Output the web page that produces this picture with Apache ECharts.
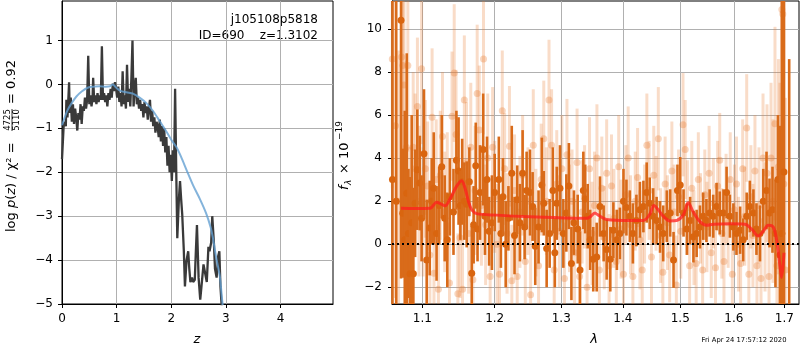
<!DOCTYPE html>
<html>
<head>
<meta charset="utf-8">
<script src="https://cdn.jsdelivr.net/npm/echarts@6/dist/echarts.min.js"></script>
<style>html,body{margin:0;padding:0;background:#fff;}#c{width:800px;height:350px;}</style>
</head>
<body>
<div id="c"></div>
<script>
// ---------- Left panel: log p(z) ----------
const zTicks = [0, 1, 2, 3, 4];
const pTicks = [-5, -4, -3, -2, -1, 0, 1];
const zBlack = [0.00,0.02,0.03,0.05,0.07,0.08,0.10,0.11,0.13,0.14,0.16,0.18,0.20,0.22,0.24,0.26,0.28,0.30,0.32,0.34,0.36,0.38,0.40,0.42,0.44,0.46,0.48,0.50,0.52,0.54,0.56,0.57,0.59,0.61,0.63,0.65,0.67,0.69,0.71,0.73,0.75,0.77,0.79,0.81,0.83,0.85,0.87,0.89,0.91,0.93,0.95,0.97,0.99,1.01,1.03,1.05,1.07,1.09,1.11,1.13,1.15,1.17,1.19,1.21,1.23,1.25,1.27,1.29,1.31,1.33,1.35,1.37,1.39,1.41,1.43,1.45,1.47,1.49,1.51,1.53,1.55,1.57,1.59,1.61,1.63,1.65,1.67,1.69,1.71,1.73,1.75,1.77,1.79,1.81,1.83,1.85,1.87,1.89,1.91,1.93,1.95,1.97,1.99,2.01,2.03,2.05,2.07,2.09,2.11,2.14,2.16,2.18,2.20,2.23,2.25,2.28,2.31,2.33,2.35,2.38,2.40,2.43,2.45,2.47,2.50,2.53,2.56,2.59,2.62,2.65,2.68,2.70,2.73,2.75,2.78,2.80,2.83,2.86,2.88,2.90,2.92,2.94];
const pBlack = [-1.7,-1.2,-0.95,-0.85,-0.95,-0.35,-0.75,-0.5,0.05,-0.65,-0.3,-0.85,-0.45,-0.9,-0.55,-0.75,-1.05,-0.65,-0.8,-0.45,-0.9,-0.5,-0.6,-0.3,-0.55,-0.35,0.65,-0.45,-0.25,-0.5,-0.3,0.15,-0.4,-0.25,-0.45,-0.2,-0.4,-0.25,-0.35,0.87,-0.35,-0.2,-0.4,-0.25,-0.5,-0.2,-0.35,-0.1,-0.3,0.02,-0.15,0.05,-0.1,-0.3,-0.05,-0.4,-0.2,-0.5,0.3,-0.45,-0.25,-0.55,0.45,-0.4,-0.1,-0.5,0.15,1.0,-0.5,-0.1,0.15,-0.45,-0.3,-0.55,-0.35,-0.6,-0.45,-0.75,-0.4,-0.65,-0.5,-0.8,-0.55,-0.35,-0.85,-0.6,-0.95,-0.75,-1.1,-0.85,-0.95,-1.2,-0.8,-1.3,-0.95,-1.4,-1.0,-1.55,-1.2,-1.85,-1.4,-2.0,-1.6,-2.2,-1.5,-2.0,-0.1,-1.9,-3.5,-2.6,-2.2,-2.6,-2.95,-3.8,-4.6,-4.0,-3.8,-4.2,-4.5,-4.4,-4.5,-4.45,-3.8,-3.2,-4.4,-4.9,-4.5,-4.1,-4.3,-4.5,-3.7,-3.8,-3.6,-3.0,-3.6,-4.2,-4.4,-3.9,-3.8,-4.6,-5.0,-5.5];
const zBlue = [0,0.05,0.1,0.18,0.26,0.36,0.48,0.6,0.69,0.8,0.88,0.93,0.98,1.06,1.18,1.3,1.42,1.54,1.67,1.79,1.91,2.0,2.09,2.18,2.28,2.4,2.52,2.64,2.72,2.76,2.82,2.89,2.93,2.96];
const pBlue = [-0.93,-0.75,-0.59,-0.42,-0.28,-0.16,-0.07,-0.05,-0.04,-0.05,-0.04,0.0,-0.06,-0.14,-0.18,-0.21,-0.3,-0.42,-0.61,-0.84,-1.07,-1.26,-1.42,-1.65,-1.95,-2.3,-2.6,-2.94,-3.25,-3.48,-3.93,-4.38,-4.9,-5.2];

// ---------- Right panel: spectrum ----------
const lamTicks = [1.1, 1.2, 1.3, 1.4, 1.5, 1.6, 1.7];
const fTicks = [-2, 0, 2, 4, 6, 8, 10];
const lamDark = [
 1.0612,1.0660,1.0722,1.0744,1.0770,1.0796,1.0818,1.0839,1.0860,1.0882,
 1.0905,1.0934,1.0967,1.0990,1.1022,1.1058,1.1098,1.1125,1.1152,1.1190,
 1.1225,1.1260,1.1300,1.1335,1.1370,1.1420,1.1460,1.1490,1.1515,1.1540,
 1.1570,1.1603,1.1640,1.1673,1.1700,1.1730,1.1755,1.1790,1.1835,1.1860,
 1.1890,1.1920,1.1960,1.2000,1.2060,1.2090,1.2120,1.2160,1.2200,1.2249,
 1.2290,1.2330,1.2370,1.2410,1.2440,1.2470,1.2521,1.2560,1.2600,1.2650,
 1.2700,1.2730,1.2774,1.2820,1.2870,1.2900,1.2930,1.2980,1.3033,1.3080,
 1.3120,1.3160,1.3200,1.3260,1.3297,1.3350,1.3380,1.3420,1.3460,1.3510,
 1.3566,1.3620,1.3680,1.3730,1.3790,1.3841,1.3900,1.3950,1.4010,1.4060,
 1.4118,1.4170,1.4230,1.4290,1.4350,1.4407,1.4460,1.4520,1.4580,1.4640,
 1.4696,1.4760,1.4820,1.4880,1.4950,1.5000,1.5060,1.5120,1.5180,1.5240,
 1.5299,1.5360,1.5420,1.5480,1.5540,1.5607,1.5670,1.5730,1.5800,1.5860,
 1.5923,1.5990,1.6050,1.6120,1.6180,1.6248,1.6310,1.6380,1.6440,1.6510,
 1.6575,1.6640,1.6700,1.6760,1.6820,1.6870,1.6911,1.6950,1.6993,1.7100];
const fDark = [
 3.0,2.0,10.4,1.44,0.2,2.37,0.5,-1.38,1.0,-1.38,
 1.9,3.46,2.84,1.2,4.2,-0.73,0.75,2.0,2.6,0.5,
 1.8,3.6,1.2,0.2,2.2,1.5,3.9,3.4,1.8,2.9,
 2.0,1.85,2.9,-1.35,0.9,3.65,0.7,2.4,4.4,1.3,
 3.0,0.6,1.0,2.4,3.0,0.5,2.2,0.0,1.2,3.3,
 0.4,2.06,1.0,3.3,0.8,2.5,2.4,1.75,-0.1,0.8,
 2.75,1.9,-0.2,0.5,2.5,-0.4,1.9,2.6,0.5,1.45,
 2.7,-0.9,1.0,0.7,-1.2,2.5,2.1,1.3,0.2,-0.7,
 -0.6,1.75,0.5,-0.25,-0.7,0.65,0.2,0.5,2.0,1.7,
 1.3,0.5,1.1,1.6,1.75,2.4,1.9,1.3,1.1,0.8,
 0.5,1.3,1.45,-0.73,2.5,2.75,1.45,0.7,1.1,0.35,
 0.5,0.8,1.3,1.1,1.45,1.3,1.75,1.45,1.45,2.4,
 1.3,0.8,0.5,0.65,0.2,1.3,1.75,1.45,0.7,0.5,
 2.0,2.5,1.45,1.6,0.5,3.0,-0.5,0.5,3.35,-3.0];
const eDark = [
 15,15,12,3.0,6.0,6.5,3.0,4.5,5.0,4.0,
 2.5,2.8,2.2,2.0,3.0,2.8,2.2,2.0,2.6,2.2,
 1.8,2.4,2.0,2.2,1.8,2.0,2.3,2.5,1.6,2.0,
 1.8,2.0,1.6,2.2,1.8,2.0,1.5,2.2,2.6,1.8,
 2.0,1.6,2.2,1.8,2.0,1.6,1.8,2.0,1.5,2.2,
 1.8,1.6,1.8,2.0,1.5,1.8,2.0,1.6,1.8,1.7,
 2.2,1.5,1.8,1.6,2.0,1.6,1.7,2.0,1.6,1.8,
 2.0,1.7,1.5,1.6,1.8,1.8,1.6,1.5,1.4,1.5,
 1.6,1.4,1.3,1.4,1.5,1.3,1.4,1.2,1.5,1.3,
 1.2,1.4,1.2,1.3,1.2,1.4,1.2,1.3,1.1,1.2,
 1.3,1.2,1.1,1.3,1.2,1.3,1.1,1.2,1.1,1.2,
 1.1,1.0,1.1,1.0,1.1,1.0,1.1,1.0,1.1,1.2,
 1.0,1.1,1.0,1.1,1.0,1.1,1.2,1.1,1.2,1.3,
 1.5,1.8,1.6,2.0,2.5,3.0,6.0,14,14,11.6];
const lamLight = [
 1.0610,1.0650,1.0690,1.0730,1.0745,1.0760,1.0790,1.0810,1.0830,1.0850,
 1.0880,1.0905,1.0935,1.0955,1.0990,1.1010,1.1040,1.1070,1.1100,1.1130,
 1.1155,1.1185,1.1215,1.1240,1.1270,1.1300,1.1335,1.1365,1.1400,1.1430,
 1.1455,1.1480,1.1510,1.1545,1.1570,1.1600,1.1630,1.1660,1.1690,1.1720,
 1.1750,1.1780,1.1810,1.1840,1.1870,1.1900,1.1935,1.1970,1.2000,1.2035,
 1.2070,1.2110,1.2145,1.2180,1.2215,1.2250,1.2290,1.2330,1.2370,1.2410,
 1.2450,1.2490,1.2530,1.2570,1.2610,1.2650,1.2690,1.2730,1.2770,1.2810,
 1.2850,1.2890,1.2930,1.2970,1.3010,1.3050,1.3090,1.3130,1.3170,1.3210,
 1.3250,1.3290,1.3330,1.3370,1.3410,1.3450,1.3490,1.3530,1.3570,1.3610,
 1.3650,1.3690,1.3730,1.3770,1.3810,1.3850,1.3890,1.3930,1.3970,1.4010,
 1.4050,1.4090,1.4130,1.4170,1.4210,1.4250,1.4290,1.4330,1.4370,1.4410,
 1.4450,1.4490,1.4530,1.4570,1.4610,1.4650,1.4690,1.4730,1.4770,1.4810,
 1.4850,1.4890,1.4930,1.4970,1.5010,1.5050,1.5090,1.5130,1.5170,1.5210,
 1.5250,1.5290,1.5330,1.5370,1.5410,1.5450,1.5490,1.5530,1.5570,1.5610,
 1.5650,1.5690,1.5730,1.5770,1.5810,1.5850,1.5890,1.5930,1.5970,1.6010,
 1.6050,1.6090,1.6130,1.6170,1.6210,1.6248,1.6290,1.6330,1.6370,1.6410,
 1.6450,1.6490,1.6530,1.6570,1.6610,1.6650,1.6690,1.6730,1.6770,1.6810,
 1.6850,1.6880,1.6910,1.6950,1.6970,1.6990,1.7020];
const fLight = [
 8.6,5.5,2.0,8.7,8.3,7.4,4.5,8.3,0.5,-0.5,
 4.5,3.5,6.4,2.0,8.15,1.5,3.5,2.7,-0.5,5.9,
 -1.35,3.0,-2.1,3.2,5.0,1.5,2.2,-1.8,5.95,7.95,
 5.1,-2.3,0.3,-2.1,6.7,3.8,0.5,4.5,-1.65,2.5,
 7.0,5.3,1.8,8.6,0.9,4.0,-1.5,4.5,2.2,0.0,
 -1.4,6.2,3.5,0.5,4.55,-1.7,2.5,-1.5,1.5,3.2,
 -0.8,2.0,-2.35,4.6,1.0,-1.0,3.0,4.9,2.0,6.7,
 4.6,-1.2,2.8,0.6,3.5,-1.6,4.15,1.2,2.0,-0.4,
 3.8,-1.5,1.5,2.2,-2.0,3.5,0.5,1.8,4.0,-1.2,
 2.6,0.3,3.3,-1.0,2.7,1.2,-0.8,3.6,0.7,-1.4,
 2.3,4.0,0.9,-1.5,2.0,3.1,0.2,-1.2,1.4,4.6,
 2.5,-0.6,3.2,1.9,4.9,0.4,-1.3,2.8,1.0,-0.5,
 3.4,1.5,-1.9,2.2,0.6,5.55,4.4,1.7,-1.0,2.6,
 0.3,-0.9,3.0,1.2,-1.2,2.3,0.8,3.3,-0.4,1.9,
 -1.1,2.7,3.9,0.5,-0.8,2.1,1.0,3.0,-1.4,1.6,
 2.8,0.0,-0.9,3.5,1.3,5.4,-1.4,2.2,0.4,3.4,
 -1.0,1.8,-1.6,4.0,0.8,3.3,-1.5,4.0,2.0,5.6,
 -1.0,3.6,1.5,10.9,10.7,2.8,-1.2];
const eLight = [
 6,8,7,5,5,4.5,4,4,4,3.5,
 3.5,3.5,3.2,3.5,3.5,3.0,3.2,3.0,3.0,3.2,
 3.0,2.8,3.0,3.0,3.0,2.8,3.0,2.8,3.0,3.2,
 3.0,2.8,2.8,3.0,3.0,2.8,2.8,3.0,2.8,3.0,
 3.2,3.0,2.8,3.5,2.8,3.0,2.8,2.8,2.6,2.8,
 2.6,2.8,2.6,2.8,2.8,2.6,2.6,2.8,2.6,2.8,
 2.6,2.5,2.8,2.6,2.5,2.6,2.6,2.7,2.5,2.8,
 2.6,2.5,2.5,2.6,2.5,2.6,2.6,2.5,2.4,2.5,
 2.5,2.6,2.4,2.4,2.6,2.4,2.4,2.5,2.5,2.4,
 2.4,2.4,2.5,2.4,2.4,2.3,2.4,2.4,2.3,2.4,
 2.3,2.4,2.3,2.4,2.3,2.3,2.3,2.3,2.3,2.4,
 2.3,2.3,2.3,2.2,2.4,2.2,2.3,2.2,2.2,2.2,
 2.3,2.2,2.3,2.2,2.2,2.4,2.3,2.2,2.2,2.2,
 2.2,2.2,2.2,2.1,2.2,2.1,2.1,2.2,2.1,2.1,
 2.2,2.1,2.2,2.1,2.1,2.1,2.1,2.2,2.2,2.1,
 2.2,2.2,2.2,2.3,2.3,2.5,2.4,2.4,2.4,2.6,
 2.6,2.7,2.8,3.0,3.0,3.2,3.3,3.5,3.8,4.5,
 4.5,5.0,6.0,8,8,9,8];
const lamModel = [1.0722,1.090,1.1102,1.1191,1.1259,1.1304,1.1372,1.1464,1.1533,1.1580,1.1626,1.1673,1.1743,1.2029,1.2521,1.3033,1.3403,1.3457,1.3538,1.3593,1.3729,1.4118,1.4346,1.4462,1.4532,1.4608,1.4696,1.4815,1.4934,1.5054,1.5145,1.5236,1.5359,1.5483,1.5607,1.5923,1.6213,1.6344,1.6475,1.6575,1.6675,1.6775,1.6843,1.6911,1.6945,1.6993];
const fModel = [1.67,1.66,1.67,1.95,1.85,1.78,2.1,2.7,2.95,2.6,2.0,1.6,1.42,1.35,1.27,1.22,1.2,1.26,1.45,1.35,1.15,1.1,1.1,1.4,1.8,1.6,1.3,1.08,1.1,1.35,1.92,1.5,1.05,0.88,0.93,0.95,0.93,0.7,0.38,0.6,0.88,0.8,0.2,-1.0,-1.55,-0.4];

const FONT = 'DejaVu Sans';
const minus = v => String(v).replace('-', '\u2212');
const L = Math.log10;

function errItem(barColor, barW, dotColor, r) {
  return function (params, api) {
    const cs = params.coordSys;
    const top = cs.y, bot = cs.y + cs.height;
    const x = api.value(0), y = api.value(1), e = api.value(2);
    const c = api.coord([x, y]);
    const clamp = v => Math.max(top, Math.min(bot, v));
    const y1 = clamp(api.coord([x, y + e])[1]);
    const y2 = clamp(api.coord([x, y - e])[1]);
    const children = [{type: 'line', shape: {x1: c[0], y1: y1, x2: c[0], y2: y2}, style: {stroke: barColor, lineWidth: barW}}];
    if (c[1] >= top && c[1] <= bot) children.push({type: 'circle', shape: {cx: c[0], cy: c[1], r: r}, style: {fill: dotColor}});
    return {type: 'group', children: children};
  };
}

function axisCommon(ticks, fmt, margin) {
  return {
    axisLine: {show: true, onZero: false, lineStyle: {color: '#000', width: 1}},
    axisTick: {show: true, inside: false, length: 4, customValues: ticks, lineStyle: {color: '#000'}},
    axisLabel: {customValues: ticks, color: '#000', fontSize: 12, fontFamily: FONT, margin: margin, formatter: fmt},
    splitLine: {show: true, lineStyle: {color: '#b0b0b0', width: 1}}
  };
}

const chart = echarts.init(document.getElementById('c'), null, {renderer: 'canvas'});
const option = {
  animation: false,
  backgroundColor: '#fff',
  grid: [
    {left: 62, top: 1, width: 271, height: 303, show: true, borderColor: '#000', borderWidth: 1, backgroundColor: 'transparent'},
    {left: 392, top: 1, width: 407, height: 303, show: true, borderColor: '#000', borderWidth: 1, backgroundColor: 'transparent'}
  ],
  xAxis: [
    Object.assign({gridIndex: 0, type: 'value', min: 0, max: 4.96}, axisCommon(zTicks, v => minus(v), 9)),
    Object.assign({gridIndex: 1, type: 'value', min: L(1.0606), max: L(1.7303)}, axisCommon(lamTicks.map(L), v => Math.pow(10, v).toFixed(1), 9))
  ],
  yAxis: [
    Object.assign({gridIndex: 0, type: 'value', min: -5, max: 1.9}, axisCommon(pTicks, v => minus(v), 9)),
    Object.assign({gridIndex: 1, type: 'value', min: -2.78, max: 11.3}, axisCommon(fTicks, v => minus(v), 10))
  ],
  series: [
    {type: 'line', xAxisIndex: 0, yAxisIndex: 0, showSymbol: false, silent: true,
     data: zBlack.map((z, i) => [z, pBlack[i]]),
     lineStyle: {color: '#3a3a3a', width: 2.3}},
    {type: 'line', xAxisIndex: 0, yAxisIndex: 0, showSymbol: false, silent: true, smooth: 0.3,
     data: zBlue.map((z, i) => [z, pBlue[i]]),
     lineStyle: {color: 'rgba(100,160,210,0.8)', width: 2}},
    {type: 'custom', xAxisIndex: 1, yAxisIndex: 1, silent: true,
     renderItem: errItem('rgba(232,125,50,0.27)', 3, 'rgba(232,125,50,0.32)', 3.5),
     encode: {x: 0, y: 1},
     data: lamLight.map((l, i) => [L(l), fLight[i], eLight[i]])},
    {type: 'custom', xAxisIndex: 1, yAxisIndex: 1, silent: true,
     renderItem: errItem('#d96b1a', 2.6, '#d9650f', 3.5),
     encode: {x: 0, y: 1},
     data: lamDark.map((l, i) => [L(l), fDark[i], eDark[i]])},
    {type: 'line', xAxisIndex: 1, yAxisIndex: 1, showSymbol: false, silent: true, smooth: 0.35,
     data: lamModel.map((l, i) => [L(l), fModel[i]]),
     lineStyle: {color: 'rgba(255,30,30,0.75)', width: 3},
     markLine: {silent: true, symbol: ['none', 'none'], label: {show: false},
       lineStyle: {color: '#000', type: [2, 3], width: 2}, data: [{yAxis: 0}]}}
  ],
  graphic: [
    {type: 'text', x: 318, y: 20, style: {text: 'j105108p5818', font: '12px "DejaVu Sans"', fill: '#000', align: 'right', verticalAlign: 'middle', textAlign: 'right', textVerticalAlign: 'middle'}},
    {type: 'text', x: 318, y: 36, style: {text: 'ID=690    z=1.3102', font: '12px "DejaVu Sans"', fill: '#000', align: 'right', verticalAlign: 'middle', textAlign: 'right', textVerticalAlign: 'middle'}},
    {type: 'text', x: 197, y: 340, style: {text: 'z', font: 'italic 13px "DejaVu Sans"', fill: '#000', align: 'center', verticalAlign: 'middle', textAlign: 'center', textVerticalAlign: 'middle'}},
    {type: 'text', x: 594, y: 340, style: {text: 'λ', font: 'italic 13px "DejaVu Sans"', fill: '#000', align: 'center', verticalAlign: 'middle', textAlign: 'center', textVerticalAlign: 'middle'}},
    {type: 'text', x: 744, y: 340, style: {text: 'Fri Apr 24 17:57:12 2020', font: '6.8px "DejaVu Sans"', fill: '#000', align: 'center', verticalAlign: 'middle', textAlign: 'center', textVerticalAlign: 'middle'}},
    {type: 'group', x: 12, y: 232, rotation: Math.PI / 2, children: [
      {type: 'text', x: 0, y: 0, style: {text: 'log {i|p}({i|z}) / χ² =', font: '13px "DejaVu Sans"', fill: '#000', align: 'left', verticalAlign: 'middle', textAlign: 'left', textVerticalAlign: 'middle', rich: {i: {fontStyle: 'italic', fontSize: 13, fontFamily: FONT}}}},
      {type: 'text', x: 112, y: -4.5, style: {text: '4725', font: '8.5px "DejaVu Sans"', fill: '#000', align: 'center', verticalAlign: 'middle', textAlign: 'center', textVerticalAlign: 'middle'}},
      {type: 'line', shape: {x1: 101, y1: 0, x2: 123, y2: 0}, style: {stroke: '#000', lineWidth: 0.8}},
      {type: 'text', x: 112, y: 4.5, style: {text: '5110', font: '8.5px "DejaVu Sans"', fill: '#000', align: 'center', verticalAlign: 'middle', textAlign: 'center', textVerticalAlign: 'middle'}},
      {type: 'text', x: 128, y: 0, style: {text: '= 0.92', font: '13px "DejaVu Sans"', fill: '#000', align: 'left', verticalAlign: 'middle', textAlign: 'left', textVerticalAlign: 'middle'}}
    ]},
    {type: 'group', x: 345, y: 190, rotation: Math.PI / 2, children: [
      {type: 'text', x: 0, y: 0, style: {text: 'f', font: 'italic 13px "DejaVu Sans"', fill: '#000', align: 'left', verticalAlign: 'middle', textAlign: 'left', textVerticalAlign: 'middle'}},
      {type: 'text', x: 5, y: 3.5, style: {text: 'λ', font: 'italic 9px "DejaVu Sans"', fill: '#000', align: 'left', verticalAlign: 'middle', textAlign: 'left', textVerticalAlign: 'middle'}},
      {type: 'text', x: 16, y: 0, style: {text: '× 10', font: '13px "DejaVu Sans"', fill: '#000', align: 'left', verticalAlign: 'middle', textAlign: 'left', textVerticalAlign: 'middle'}},
      {type: 'text', x: 50, y: -5, style: {text: '\u221219', font: '9px "DejaVu Sans"', fill: '#000', align: 'left', verticalAlign: 'middle', textAlign: 'left', textVerticalAlign: 'middle'}}
    ]}
  ]
};
chart.setOption(option);
</script>
</body>
</html>
